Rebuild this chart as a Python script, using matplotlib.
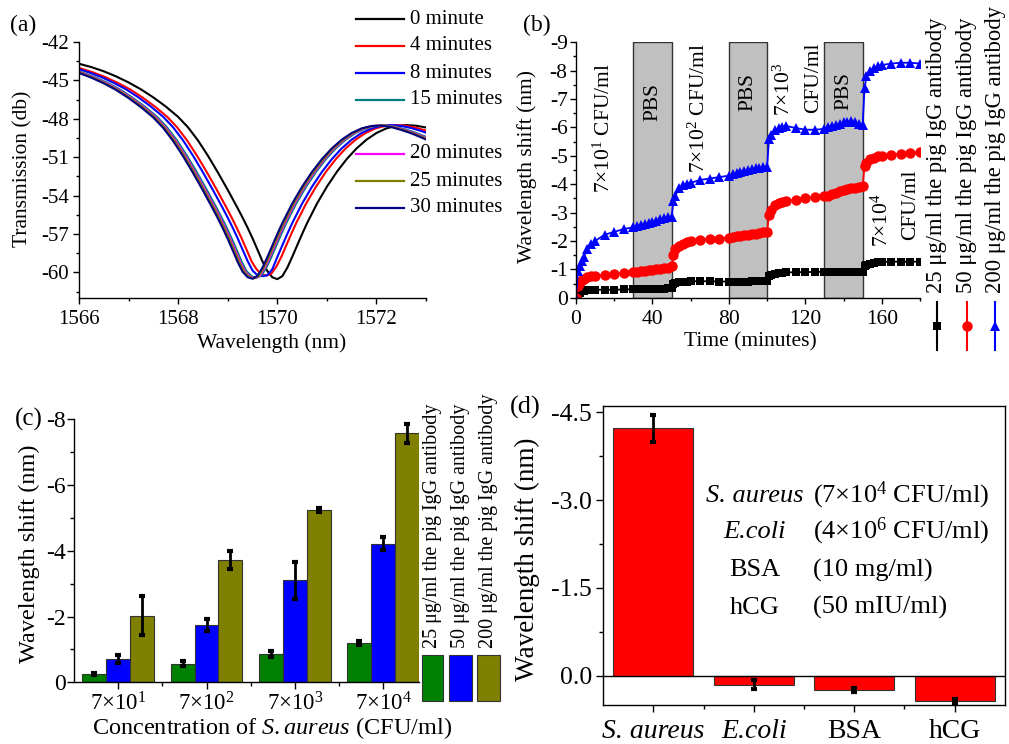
import matplotlib
matplotlib.use('Agg')
import matplotlib.pyplot as plt
from matplotlib.lines import Line2D
from matplotlib.patches import Rectangle
from matplotlib.ticker import MultipleLocator, FixedLocator, FormatStrFormatter

plt.rcParams['font.family'] = ['Liberation Serif', 'DejaVu Serif']
plt.rcParams['mathtext.fontset'] = 'custom'
plt.rcParams['mathtext.rm'] = 'Liberation Serif'
plt.rcParams['mathtext.it'] = 'Liberation Serif:italic'
plt.rcParams['mathtext.bf'] = 'Liberation Serif:bold'
plt.rcParams['axes.unicode_minus'] = False
plt.rcParams['axes.linewidth'] = 1.0

# ---------------- (a) transmission spectra ----------------
wl_0min = [1566.0, 1566.25, 1566.5, 1566.75, 1567.0, 1567.25, 1567.5, 1567.75, 1568.0, 1568.2,
           1568.4, 1568.6, 1568.8, 1569.0, 1569.2, 1569.3, 1569.4, 1569.5, 1569.6, 1569.7,
           1569.8, 1569.9, 1570.0, 1570.1, 1570.2, 1570.3, 1570.4, 1570.5, 1570.6, 1570.8,
           1571.0, 1571.2, 1571.4, 1571.6, 1571.8, 1572.0, 1572.2, 1572.4, 1572.6, 1572.8, 1573.0]
tr_0min = [-43.70, -43.96, -44.29, -44.69, -45.16, -45.70, -46.33, -47.04, -47.85, -48.67,
           -49.69, -50.88, -52.18, -53.55, -54.98, -55.72, -56.50, -57.33, -58.22, -59.13,
           -59.90, -60.38, -60.53, -60.30, -59.65, -58.80, -57.90, -57.01, -56.16, -54.63,
           -53.31, -52.15, -51.15, -50.31, -49.63, -49.11, -48.75, -48.55, -48.49, -48.54, -48.68]

wl_4min = [1565.78, 1566.03, 1566.28, 1566.53, 1566.78, 1567.03, 1567.28, 1567.53, 1567.78, 1567.98,
           1568.18, 1568.38, 1568.58, 1568.78, 1568.98, 1569.08, 1569.18, 1569.28, 1569.38, 1569.48,
           1569.58, 1569.68, 1569.78, 1569.88, 1569.98, 1570.08, 1570.18, 1570.28, 1570.38, 1570.58,
           1570.78, 1570.98, 1571.18, 1571.38, 1571.58, 1571.78, 1571.98, 1572.18, 1572.38, 1572.58,
           1572.78, 1572.98, 1573.18, 1573.38]
tr_4min = [-43.82, -44.06, -44.37, -44.74, -45.19, -45.70, -46.33, -47.04, -47.85, -48.67,
           -49.69, -50.88, -52.18, -53.55, -54.98, -55.72, -56.50, -57.33, -58.22, -59.13,
           -59.75, -60.15, -60.25, -60.10, -59.55, -58.80, -57.90, -57.01, -56.16, -54.63,
           -53.31, -52.15, -51.15, -50.31, -49.63, -49.11, -48.75, -48.55, -48.49, -48.54,
           -48.68, -48.90, -49.13, -49.37]

wl_8min = [1565.70, 1565.95, 1566.20, 1566.45, 1566.70, 1566.95, 1567.20, 1567.45, 1567.70, 1567.90,
           1568.10, 1568.30, 1568.50, 1568.70, 1568.90, 1569.00, 1569.10, 1569.20, 1569.30, 1569.40,
           1569.50, 1569.60, 1569.70, 1569.80, 1569.90, 1570.00, 1570.10, 1570.20, 1570.30, 1570.50,
           1570.70, 1570.90, 1571.10, 1571.30, 1571.50, 1571.70, 1571.90, 1572.10, 1572.30, 1572.50,
           1572.70, 1572.90, 1573.10, 1573.30]
tr_8min = [-43.82, -44.06, -44.37, -44.74, -45.19, -45.70, -46.33, -47.04, -47.85, -48.67,
           -49.69, -50.88, -52.18, -53.55, -54.98, -55.72, -56.50, -57.33, -58.22, -59.10,
           -59.85, -60.22, -60.30, -60.22, -59.75, -58.80, -57.90, -57.01, -56.16, -54.63,
           -53.31, -52.15, -51.15, -50.31, -49.63, -49.11, -48.75, -48.55, -48.49, -48.56,
           -48.72, -48.95, -49.22, -49.50]

wl_15min = [1565.58, 1565.83, 1566.08, 1566.33, 1566.58, 1566.83, 1567.08, 1567.33, 1567.58, 1567.78,
            1567.98, 1568.18, 1568.38, 1568.58, 1568.78, 1568.88, 1568.98, 1569.08, 1569.18, 1569.28,
            1569.38, 1569.48, 1569.58, 1569.68, 1569.78, 1569.88, 1569.98, 1570.08, 1570.18, 1570.38,
            1570.58, 1570.78, 1570.98, 1571.18, 1571.38, 1571.58, 1571.78, 1571.98, 1572.18, 1572.38,
            1572.58, 1572.78, 1572.98, 1573.18]
tr_15min = [-43.84, -44.08, -44.39, -44.76, -45.20, -45.72, -46.35, -47.06, -47.87, -48.69,
            -49.71, -50.90, -52.20, -53.57, -55.00, -55.74, -56.52, -57.35, -58.24, -59.15,
            -59.90, -60.30, -60.42, -60.24, -59.62, -58.80, -57.90, -57.01, -56.16, -54.63,
            -53.31, -52.15, -51.15, -50.31, -49.63, -49.11, -48.75, -48.56, -48.52, -48.62,
            -48.82, -49.08, -49.38, -49.70]

wl_20min = [1565.55, 1565.80, 1566.05, 1566.30, 1566.55, 1566.80, 1567.05, 1567.30, 1567.55, 1567.75,
            1567.95, 1568.15, 1568.35, 1568.55, 1568.75, 1568.85, 1568.95, 1569.05, 1569.15, 1569.25,
            1569.35, 1569.45, 1569.55, 1569.65, 1569.75, 1569.85, 1569.95, 1570.05, 1570.15, 1570.35,
            1570.55, 1570.75, 1570.95, 1571.15, 1571.35, 1571.55, 1571.75, 1571.95, 1572.15, 1572.35,
            1572.55, 1572.75, 1572.95, 1573.15]
tr_20min = [-43.85, -44.09, -44.40, -44.77, -45.21, -45.73, -46.36, -47.07, -47.88, -48.70,
            -49.72, -50.91, -52.21, -53.58, -55.01, -55.75, -56.53, -57.36, -58.25, -59.16,
            -59.92, -60.33, -60.45, -60.25, -59.63, -58.80, -57.90, -57.01, -56.16, -54.63,
            -53.31, -52.15, -51.15, -50.31, -49.63, -49.11, -48.75, -48.56, -48.52, -48.63,
            -48.84, -49.10, -49.40, -49.72]

wl_25min = [1565.53, 1565.78, 1566.03, 1566.28, 1566.53, 1566.78, 1567.03, 1567.28, 1567.53, 1567.73,
            1567.93, 1568.13, 1568.33, 1568.53, 1568.73, 1568.83, 1568.93, 1569.03, 1569.13, 1569.23,
            1569.33, 1569.43, 1569.53, 1569.63, 1569.73, 1569.83, 1569.93, 1570.03, 1570.13, 1570.33,
            1570.53, 1570.73, 1570.93, 1571.13, 1571.33, 1571.53, 1571.73, 1571.93, 1572.13, 1572.33,
            1572.53, 1572.73, 1572.93, 1573.13]
tr_25min = [-43.86, -44.10, -44.41, -44.78, -45.22, -45.74, -46.37, -47.08, -47.89, -48.71,
            -49.73, -50.92, -52.22, -53.59, -55.02, -55.76, -56.54, -57.37, -58.26, -59.17,
            -59.93, -60.35, -60.47, -60.26, -59.63, -58.80, -57.90, -57.01, -56.16, -54.63,
            -53.31, -52.15, -51.15, -50.31, -49.63, -49.11, -48.75, -48.56, -48.52, -48.63,
            -48.85, -49.11, -49.42, -49.74]

wl_30min = [1565.50, 1565.75, 1566.00, 1566.25, 1566.50, 1566.75, 1567.00, 1567.25, 1567.50, 1567.70,
            1567.90, 1568.10, 1568.30, 1568.50, 1568.70, 1568.80, 1568.90, 1569.00, 1569.10, 1569.20,
            1569.30, 1569.40, 1569.50, 1569.60, 1569.70, 1569.80, 1569.90, 1570.00, 1570.10, 1570.30,
            1570.50, 1570.70, 1570.90, 1571.10, 1571.30, 1571.50, 1571.70, 1571.90, 1572.10, 1572.30,
            1572.50, 1572.70, 1572.90, 1573.10]
tr_30min = [-43.88, -44.12, -44.42, -44.79, -45.23, -45.75, -46.38, -47.09, -47.90, -48.72,
            -49.74, -50.93, -52.23, -53.60, -55.03, -55.77, -56.55, -57.38, -58.27, -59.18,
            -59.95, -60.37, -60.50, -60.27, -59.64, -58.80, -57.90, -57.01, -56.16, -54.63,
            -53.31, -52.15, -51.15, -50.31, -49.63, -49.11, -48.75, -48.56, -48.53, -48.65,
            -48.87, -49.13, -49.45, -49.78]

spec_labels = ['0 minute', '4 minutes', '8 minutes', '15 minutes', '20 minutes', '25 minutes', '30 minutes']
spec_colors = ['#000000', '#FF0000', '#0000FF', '#008080', '#FF00FF', '#808000', '#000080']

# ---------------- (b) real-time shift ----------------
time_min = [0, 1, 2, 3, 4, 6, 8, 10, 15, 20, 25, 30,
            32, 34, 36, 38, 40, 42, 44, 46, 48, 50,
            51, 52, 54, 56, 58, 60, 65, 70, 75, 80,
            82, 84, 86, 88, 90, 92, 94, 96, 98, 100,
            101, 102, 104, 106, 108, 110, 115, 120, 125, 130,
            132, 134, 136, 138, 140, 142, 144, 146, 148, 150,
            151, 152, 154, 156, 158, 160, 165, 170, 175, 180]
shift_25 = [0, -0.1, -0.18, -0.22, -0.25, -0.27, -0.27, -0.28, -0.28, -0.28, -0.29, -0.3,
            -0.3, -0.3, -0.31, -0.31, -0.31, -0.32, -0.32, -0.32, -0.33, -0.33,
            -0.48, -0.53, -0.56, -0.57, -0.57, -0.58, -0.58, -0.58, -0.57, -0.57,
            -0.57, -0.57, -0.57, -0.57, -0.57, -0.58, -0.58, -0.58, -0.58, -0.58,
            -0.75, -0.8, -0.84, -0.86, -0.88, -0.89, -0.9, -0.9, -0.91, -0.91,
            -0.92, -0.92, -0.92, -0.92, -0.92, -0.92, -0.92, -0.92, -0.92, -0.92,
            -1.1, -1.15, -1.2, -1.23, -1.25, -1.26, -1.27, -1.27, -1.27, -1.27]
shift_50 = [0, -0.4, -0.55, -0.62, -0.67, -0.72, -0.76, -0.78, -0.8, -0.84, -0.87, -0.9,
            -0.91, -0.93, -0.95, -0.97, -0.99, -1.0, -1.02, -1.04, -1.06, -1.1,
            -1.5, -1.7, -1.82, -1.9, -1.96, -2.0, -2.05, -2.07, -2.08, -2.12,
            -2.14, -2.16, -2.18, -2.2, -2.22, -2.24, -2.26, -2.28, -2.31, -2.33,
            -2.92, -3.1, -3.25, -3.32, -3.37, -3.4, -3.46, -3.5, -3.54, -3.57,
            -3.6, -3.65, -3.7, -3.75, -3.8, -3.83, -3.85, -3.87, -3.9, -3.92,
            -4.63, -4.75, -4.88, -4.94, -4.98, -5.0, -5.04, -5.07, -5.1, -5.12]
shift_200 = [0, -0.95, -1.1, -1.3, -1.45, -1.7, -1.88, -2.0, -2.22, -2.32, -2.42, -2.48,
             -2.52, -2.56, -2.6, -2.64, -2.68, -2.72, -2.76, -2.8, -2.83, -2.85,
             -3.4, -3.6, -3.85, -3.97, -4.02, -4.05, -4.15, -4.2, -4.25, -4.3,
             -4.35, -4.4, -4.43, -4.46, -4.5, -4.53, -4.56, -4.58, -4.6, -4.62,
             -5.6, -5.75, -5.9, -5.98, -6.02, -6.05, -5.98, -5.92, -5.92, -5.95,
             -6.0, -6.05, -6.1, -6.13, -6.18, -6.2, -6.22, -6.18, -6.13, -6.1,
             -7.4, -7.8, -8.0, -8.1, -8.15, -8.2, -8.25, -8.28, -8.28, -8.25]
pbs_windows = [(30, 50), (80, 100), (130, 150)]
antibody_labels = ['25 μg/ml the pig IgG antibody', '50 μg/ml the pig IgG antibody',
                   '200 μg/ml the pig IgG antibody']

# ---------------- (c) concentration bars ----------------
conc_labels = ['7×10$^{1}$', '7×10$^{2}$', '7×10$^{3}$', '7×10$^{4}$']
bar_25 = [-0.25, -0.57, -0.87, -1.2]
err_25 = [0.03, 0.07, 0.09, 0.06]
bar_50 = [-0.7, -1.75, -3.1, -4.22]
err_50 = [0.12, 0.18, 0.56, 0.21]
bar_200 = [-2.03, -3.73, -5.24, -7.57]
err_200 = [0.58, 0.27, 0.05, 0.29]
conc_colors = ['#008000', '#0000FF', '#808000']

# ---------------- (d) specificity ----------------
targets = ['S. aureus', 'E.coli', 'BSA', 'hCG']
target_shift = [-4.23, 0.15, 0.24, 0.43]
target_err = [0.23, 0.07, 0.03, 0.03]
target_conc = ['(7×10$^{4}$ CFU/ml)', '(4×10$^{6}$ CFU/ml)', '(10 mg/ml)', '(50 mIU/ml)']

W, H = 1009, 744
fig = plt.figure(figsize=(W / 100, H / 100), dpi=100)


def rect(l, t, r, b):
    return [l / W, 1 - b / H, (r - l) / W, (b - t) / H]


def fx(x):
    return x / W


def fy(y):
    return 1 - y / H


def style_ticks(ax, size, major=4, minor=2.5):
    ax.tick_params(which='both', direction='out', width=1, labelsize=size)
    ax.tick_params(which='major', length=major)
    ax.tick_params(which='minor', length=minor)


# ====== (a) ======
axA = fig.add_axes(rect(79, 42, 426, 298))
spectra = [(wl_0min, tr_0min), (wl_4min, tr_4min), (wl_8min, tr_8min), (wl_15min, tr_15min),
           (wl_20min, tr_20min), (wl_25min, tr_25min), (wl_30min, tr_30min)]
for (xw, yt), c in zip(spectra, spec_colors):
    axA.plot(xw, yt, color=c, lw=1.5)
axA.set_xlim(1566, 1573)
axA.set_ylim(-62, -42)
axA.spines[['top', 'right']].set_visible(False)
axA.xaxis.set_major_locator(MultipleLocator(2))
axA.xaxis.set_minor_locator(MultipleLocator(1))
axA.yaxis.set_major_locator(MultipleLocator(3))
axA.yaxis.set_minor_locator(MultipleLocator(1.5))
axA.xaxis.set_major_formatter(FormatStrFormatter('%d'))
axA.yaxis.set_major_formatter(FormatStrFormatter('%d'))
style_ticks(axA, 15)
axA.tick_params(axis='x', pad=5)
axA.tick_params(axis='y', pad=3)
lx = axA.set_xlabel('Wavelength (nm)', fontsize=15.5)
lx.set_va('center')
axA.xaxis.set_label_coords(0.556, -0.178)
ly = axA.set_ylabel('Transmission (db)', fontsize=15.5)
ly.set_va('center')
axA.yaxis.set_label_coords(-0.161, 0.505)
fig.text(fx(23), fy(25), '(a)', fontsize=17, ha='center', va='center')

leg_rows = [19, 46, 73, 100, 154, 181, 208]
for lab, col, yy in zip(spec_labels, spec_colors, leg_rows):
    fig.add_artist(Line2D([fx(356), fx(404)], [fy(yy), fy(yy)], color=col, lw=1.6))
    fig.text(fx(410), fy(yy), lab, fontsize=15, ha='left', va='center')

# ====== (b) ======
axB = fig.add_axes(rect(576, 42.3, 920, 297.7))
for (t0, t1) in pbs_windows:
    axB.axvspan(t0, t1, facecolor='#C0C0C0', edgecolor='#333333', lw=1.0, zorder=0)
series_b = [shift_25, shift_50, shift_200]
b_colors = ['#000000', '#FF0000', '#0000FF']
b_markers = ['s', 'o', '^']
b_ms = [5.5, 7.5, 7.5]
for s, c, m, ms in zip(series_b, b_colors, b_markers, b_ms):
    axB.plot(time_min, s, color=c, marker=m, ms=ms, lw=1.3, markeredgewidth=0)
axB.set_xlim(0, 180)
axB.set_ylim(0, -9)
axB.spines[['top', 'right']].set_visible(False)
axB.xaxis.set_major_locator(MultipleLocator(40))
axB.xaxis.set_minor_locator(MultipleLocator(20))
axB.yaxis.set_major_locator(MultipleLocator(1))
axB.yaxis.set_minor_locator(MultipleLocator(0.5))
axB.yaxis.set_major_formatter(FormatStrFormatter('%d'))
style_ticks(axB, 15.5)
axB.tick_params(axis='x', pad=5)
axB.tick_params(axis='y', pad=2)
lx = axB.set_xlabel('Time (minutes)', fontsize=15.5)
lx.set_va('center')
axB.xaxis.set_label_coords(0.506, -0.172)
ly = axB.set_ylabel('Wavelength shift (nm)', fontsize=15.5)
ly.set_va('center')
axB.yaxis.set_label_coords(-0.142, 0.512)
fig.text(fx(537), fy(25), '(b)', fontsize=17, ha='center', va='center')

ann_kw = dict(rotation=90, ha='center', va='center', fontsize=15.5)
axB.text(14.5, -5.98, '7×10$^{1}$ CFU/ml', **ann_kw)
axB.text(64.3, -6.68, '7×10$^{2}$ CFU/ml', **ann_kw)
axB.text(108.7, -7.35, '7×10$^{3}$', **ann_kw)
axB.text(124.3, -7.74, 'CFU/ml', **ann_kw)
axB.text(160.2, -2.75, '7×10$^{4}$', **ann_kw)
axB.text(175.0, -3.27, 'CFU/ml', **ann_kw)
for (t0, t1), yv in zip(pbs_windows, [-6.9, -7.25, -7.28]):
    axB.text((t0 + t1) / 2, yv, 'PBS', **ann_kw)

leg_b_x = [936.7, 966.7, 995.0]
for x, lab, c, m, ms in zip(leg_b_x, antibody_labels, b_colors, b_markers, b_ms):
    fig.add_artist(Line2D([fx(x), fx(x)], [fy(302), fy(350)], color=c, lw=1.5))
    fig.add_artist(Line2D([fx(x)], [fy(326)], color=c, marker=m, ms=ms, markeredgewidth=0,
                          linestyle='none'))
    fig.text(fx(x), fy(293), lab, rotation=90, ha='center', va='bottom', fontsize=16.3)

# ====== (c) ======
axC = fig.add_axes(rect(74, 419.3, 419, 682.3))
xs = [1, 2, 3, 4]
bw = 0.27
offsets = [-bw, 0, bw]
for off, vals, errs, col in zip(offsets, [bar_25, bar_50, bar_200], [err_25, err_50, err_200], conc_colors):
    pos = [x + off for x in xs]
    axC.bar(pos, vals, width=bw, color=col, edgecolor='#333333', lw=0.8, zorder=2)
    axC.errorbar(pos, vals, yerr=errs, fmt='none', ecolor='black', elinewidth=2,
                 capsize=2.5, capthick=3, zorder=3)
axC.set_xlim(0.5, 4.405)
axC.set_ylim(0, -8)
axC.spines[['top', 'right']].set_visible(False)
axC.set_xticks(xs)
axC.set_xticklabels(conc_labels)
axC.xaxis.set_minor_locator(FixedLocator([1.5, 2.5, 3.5]))
axC.yaxis.set_major_locator(MultipleLocator(2))
axC.yaxis.set_minor_locator(MultipleLocator(1))
axC.yaxis.set_major_formatter(FormatStrFormatter('%d'))
style_ticks(axC, 17, major=5, minor=3)
axC.tick_params(axis='x', labelsize=16.5, pad=2)
axC.tick_params(axis='y', pad=1)
lx = axC.set_xlabel('Concentration of $\\it{S.aureus}$ (CFU/ml)', fontsize=17.5)
lx.set_va('center')
axC.xaxis.set_label_coords(0.574, -0.172)
ly = axC.set_ylabel('Wavelength shift (nm)', fontsize=17.5)
ly.set_va('center')
axC.yaxis.set_label_coords(-0.13, 0.488)
fig.text(fx(29), fy(419), '(c)', fontsize=18, ha='center', va='center')

sq_x = [(421.7, 443.3), (449.3, 471.7), (477.3, 500.0)]
for (x0, x1), col, lab in zip(sq_x, conc_colors, antibody_labels):
    fig.add_artist(Rectangle((fx(x0), fy(700.7)), (x1 - x0) / W, (700.7 - 655) / H,
                             transform=fig.transFigure, facecolor=col, edgecolor='#333333', lw=0.8))
    fig.text(fx((x0 + x1) / 2), fy(648), lab, rotation=90, ha='center', va='bottom', fontsize=14.5)

# ====== (d) ======
axD = fig.add_axes(rect(603, 406, 1005, 705))
xd = [1, 2, 3, 4]
axD.bar(xd, target_shift, width=0.8, color='#FF0000', edgecolor='#333333', lw=0.8, zorder=2)
axD.errorbar(xd, target_shift, yerr=target_err, fmt='none', ecolor='black', elinewidth=2,
             capsize=2.5, capthick=3, zorder=3)
axD.axhline(0, color='black', lw=1.0, zorder=4)
axD.set_xlim(0.5, 4.5)
axD.set_ylim(0.5, -4.61)
axD.set_xticks(xd)
axD.set_xticklabels(targets)
for lbl, it in zip(axD.get_xticklabels(), [True, True, False, False]):
    lbl.set_fontstyle('italic' if it else 'normal')
axD.xaxis.set_minor_locator(FixedLocator([1.5, 2.5, 3.5]))
axD.yaxis.set_major_locator(MultipleLocator(1.5))
axD.yaxis.set_minor_locator(MultipleLocator(0.75))
axD.yaxis.set_major_formatter(FormatStrFormatter('%.1f'))
style_ticks(axD, 18.5, major=5, minor=3)
axD.tick_params(axis='x', labelsize=20, pad=5)
axD.tick_params(axis='y', pad=3)
ly = axD.set_ylabel('Wavelength shift (nm)', fontsize=19.5)
ly.set_va('center')
axD.yaxis.set_label_coords(-0.187, 0.488)
fig.text(fx(525), fy(407), '(d)', fontsize=19, ha='center', va='center')

row_y = [-3.08, -2.46, -1.80, -1.16]
for name, conc, yv, it in zip(targets, target_conc, row_y, [True, True, False, False]):
    axD.text(2.01, yv, name, fontsize=19, ha='center', va='center',
             fontstyle='italic' if it else 'normal')
    axD.text(2.59, yv, conc, fontsize=19, ha='left', va='center')

fig.savefig('out.png', dpi=100)
